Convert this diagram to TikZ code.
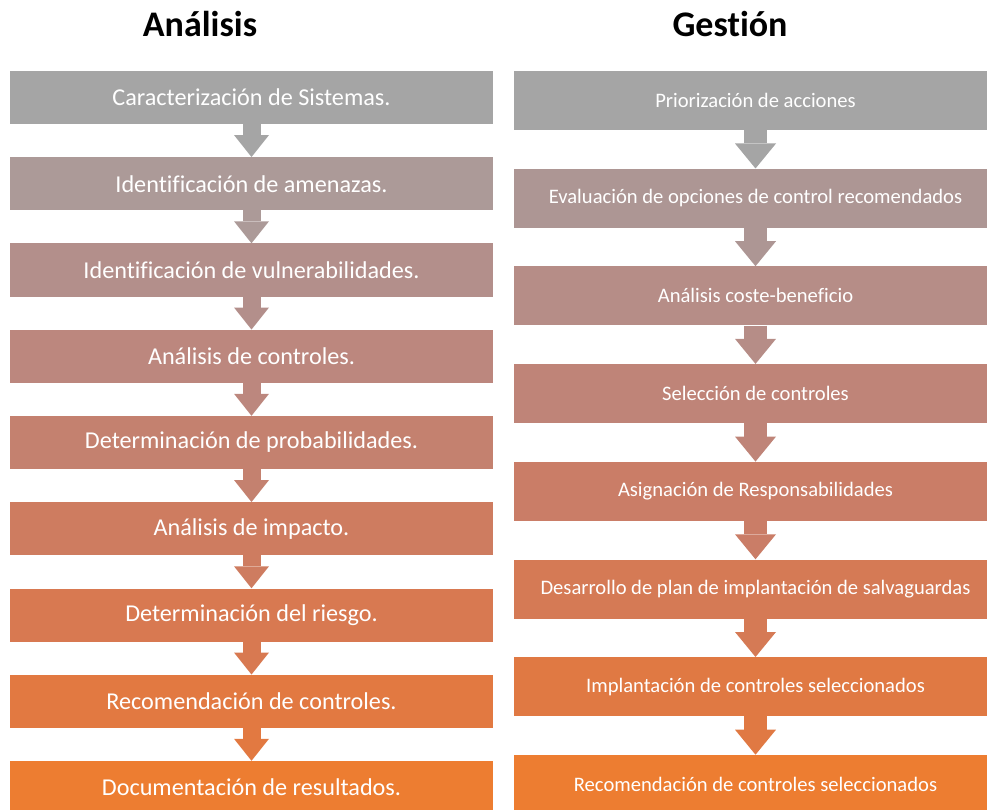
\documentclass[tikz,border=0pt]{standalone}
\usepackage{fontspec}
\setmainfont{Carlito}[Ligatures={NoCommon}]
\usetikzlibrary{arrows.meta}

% grey to orange, one colour per step
\definecolor{cA1}{RGB}{165,165,165}
\definecolor{cA2}{RGB}{172,154,152}
\definecolor{cA3}{RGB}{179,143,139}
\definecolor{cA4}{RGB}{188,135,126}
\definecolor{cA5}{RGB}{196,129,111}
\definecolor{cA6}{RGB}{206,124,96}
\definecolor{cA7}{RGB}{216,121,81}
\definecolor{cA8}{RGB}{226,121,65}
\definecolor{cA9}{RGB}{237,125,49}
\definecolor{cG1}{RGB}{165,165,165}
\definecolor{cG2}{RGB}{173,150,148}
\definecolor{cG3}{RGB}{182,141,135}
\definecolor{cG4}{RGB}{191,132,120}
\definecolor{cG5}{RGB}{202,125,103}
\definecolor{cG6}{RGB}{213,122,85}
\definecolor{cG7}{RGB}{224,121,67}
\definecolor{cG8}{RGB}{237,125,49}

\begin{document}
\begin{tikzpicture}[
        x=1pt, y=-1pt,
        title/.style={anchor=base, font=\fontsize{36}{42}\selectfont\bfseries},
        boxL/.style={fill=#1, text=white, minimum width=483pt, minimum height=53pt, inner sep=0pt, font=\fontsize{24.2}{28}\selectfont},
        boxR/.style={fill=#1, text=white, minimum width=483pt, minimum height=59pt, inner sep=0pt, font=\fontsize{20.6}{24}\selectfont},
        linkL/.style={draw=#1, line width=18pt, -{Triangle[length=22pt,width=35pt,line width=0pt]}},
        linkR/.style={draw=#1, line width=23pt, -{Triangle[length=25pt,width=41pt,line width=0pt]}}
    ]
        \useasboundingbox (0,0) rectangle (987,810);
        \clip (0,0) rectangle (987,810);
        % Titulos
        \node[title] (TA) at (200,37) {Análisis};
        \node[title] (TG) at (730,37) {Gestión};
        % Columna izquierda: analisis
        \node[boxL=cA1] (A1) at (251.5,97.5) {Caracterización de Sistemas.};
        \node[boxL=cA2] (A2) at (251.5,183.75) {Identificación de amenazas.};
        \node[boxL=cA3] (A3) at (251.5,270) {Identificación de vulnerabilidades.};
        \node[boxL=cA4] (A4) at (251.5,356.25) {Análisis de controles.};
        \node[boxL=cA5] (A5) at (251.5,442.5) {Determinación de probabilidades.};
        \node[boxL=cA6] (A6) at (251.5,528.75) {Análisis de impacto.};
        \node[boxL=cA7] (A7) at (251.5,615) {Determinación del riesgo.};
        \node[boxL=cA8] (A8) at (251.5,701.25) {Recomendación de controles.};
        \node[boxL=cA9] (A9) at (251.5,787.5) {Documentación de resultados.};
        % Columna derecha: gestion
        \node[boxR=cG1] (G1) at (755.5,100.5) {Priorización de acciones};
        \node[boxR=cG2] (G2) at (755.5,198.2) {Evaluación de opciones de control recomendados};
        \node[boxR=cG3] (G3) at (755.5,295.9) {Análisis coste-beneficio};
        \node[boxR=cG4] (G4) at (755.5,393.6) {Selección de controles};
        \node[boxR=cG5] (G5) at (755.5,491.3) {Asignación de Responsabilidades};
        \node[boxR=cG6] (G6) at (755.5,589) {Desarrollo de plan de implantación de salvaguardas};
        \node[boxR=cG7] (G7) at (755.5,686.7) {Implantación de controles seleccionados};
        \node[boxR=cG8] (G8) at (755.5,784.4) {Recomendación de controles seleccionados};
        % Flechas entre pasos
        \draw[linkL=cA1] (A1) -- (A2);
        \draw[linkL=cA2] (A2) -- (A3);
        \draw[linkL=cA3] (A3) -- (A4);
        \draw[linkL=cA4] (A4) -- (A5);
        \draw[linkL=cA5] (A5) -- (A6);
        \draw[linkL=cA6] (A6) -- (A7);
        \draw[linkL=cA7] (A7) -- (A8);
        \draw[linkL=cA8] (A8) -- (A9);
        \draw[linkR=cG1] (G1) -- (G2);
        \draw[linkR=cG2] (G2) -- (G3);
        \draw[linkR=cG3] (G3) -- (G4);
        \draw[linkR=cG4] (G4) -- (G5);
        \draw[linkR=cG5] (G5) -- (G6);
        \draw[linkR=cG6] (G6) -- (G7);
        \draw[linkR=cG7] (G7) -- (G8);
    \end{tikzpicture}
\end{document}
